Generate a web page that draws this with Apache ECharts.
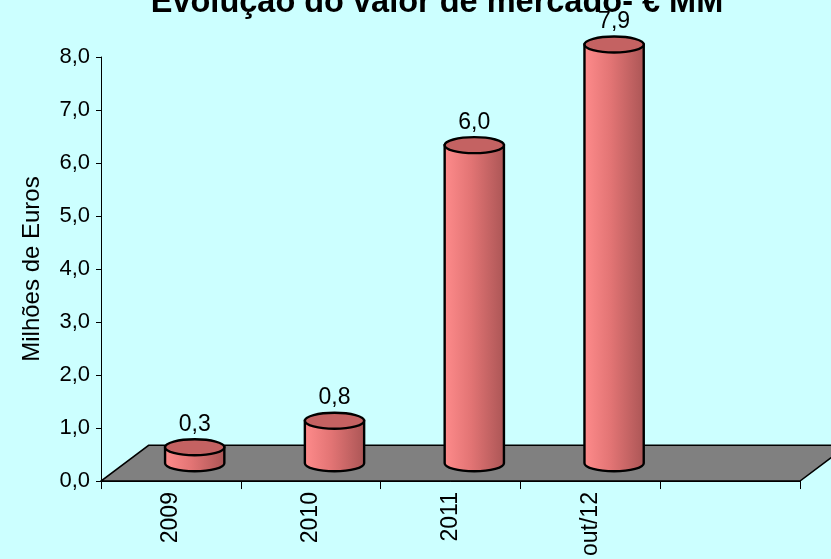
<!DOCTYPE html>
<html>
<head>
<meta charset="utf-8">
<script src="https://cdn.jsdelivr.net/npm/echarts@6/dist/echarts.min.js"></script>
<style>
html,body{margin:0;padding:0;background:#CCFFFF;}
#chart{width:831px;height:559px;}
</style>
</head>
<body>
<div id="chart"></div>
<script>
// ---- data ----
const titleText = 'Evolução do valor de mercado- € MM';
const yAxisTitle = 'Milhões de Euros';
const categories = ['2009', '2010', '2011', 'out/12', ''];
const values = [0.3, 0.8, 6.0, 7.9];
const yMin = 0;
const yMax = 8;
const yInterval = 1;

// ---- style constants ----
const FONT = 'Liberation Sans, Arial, sans-serif';
const DEPTH_X = 47.6;   // 3D floor depth offset
const DEPTH_Y = -35.7;
const RX_RATIO = 0.212; // cylinder radius relative to category width
const RY = 8;

function fmt(v) { return v.toFixed(1).replace('.', ','); }

const chart = echarts.init(document.getElementById('chart'));

function renderFloor(params, api) {
  const cs = params.coordSys;
  const y0 = api.coord([0, 0])[1];
  const x0 = cs.x, x1 = cs.x + cs.width;
  return {
    type: 'polygon',
    shape: { points: [[x0, y0], [x1, y0], [x1 + DEPTH_X, y0 + DEPTH_Y], [x0 + DEPTH_X, y0 + DEPTH_Y]] },
    style: { fill: '#808080', stroke: '#000', lineWidth: 1.5 }
  };
}

function renderCylinder(params, api) {
  const idx = api.value(0);
  const v = api.value(1);
  const base = api.coord([idx, 0]);
  const top = api.coord([idx, v]);
  const band = api.size([1, 0])[0];
  const rx = band * RX_RATIO;
  const cx = base[0] + DEPTH_X / 2;
  const yb = base[1] + DEPTH_Y / 2;
  const yt = top[1] + DEPTH_Y / 2;
  const path = 'M' + (cx - rx) + ',' + yt +
    ' L' + (cx - rx) + ',' + yb +
    ' A' + rx + ',' + RY + ' 0 0 0 ' + (cx + rx) + ',' + yb +
    ' L' + (cx + rx) + ',' + yt + ' Z';
  return {
    type: 'group',
    children: [
      {
        type: 'path',
        shape: { pathData: path },
        style: {
          fill: {
            type: 'linear', x: 0, y: 0, x2: 1, y2: 0,
            colorStops: [
              { offset: 0, color: '#FF8C8C' },
              { offset: 0.45, color: '#E27474' },
              { offset: 1, color: '#AA5555' }
            ]
          },
          stroke: '#000', lineWidth: 2.4
        }
      },
      {
        type: 'ellipse',
        shape: { cx: cx, cy: yt, rx: rx, ry: RY },
        style: { fill: '#C46262', stroke: '#000', lineWidth: 2.4 }
      },
      {
        type: 'text',
        style: {
          text: fmt(v), x: cx, y: yt - 23,
          textAlign: 'center', textVerticalAlign: 'middle',
          font: '23px ' + FONT, fill: '#000'
        }
      }
    ]
  };
}

chart.setOption({
  backgroundColor: '#CCFFFF',
  animation: false,
  title: {
    text: titleText,
    left: 432, top: -18,
    textAlign: 'center',
    textStyle: { fontSize: 32.5, fontWeight: 'bold', fontFamily: FONT, color: '#000' }
  },
  grid: { left: 101, right: 31, top: 57, bottom: 76 },
  xAxis: {
    type: 'category',
    data: categories,
    axisLine: { lineStyle: { color: '#000', width: 1 } },
    axisTick: { show: true, length: 8, alignWithLabel: false, lineStyle: { color: '#000' } },
    axisLabel: { rotate: 90, margin: 11, fontSize: 23, fontFamily: FONT, color: '#000', interval: 0 },
    splitLine: { show: false }
  },
  yAxis: {
    type: 'value',
    min: yMin, max: yMax, interval: yInterval,
    name: yAxisTitle,
    nameLocation: 'middle',
    nameRotate: 90,
    nameGap: 57,
    nameTextStyle: { fontSize: 24, fontFamily: FONT, color: '#000' },
    axisLine: { show: true, lineStyle: { color: '#000', width: 1 } },
    axisTick: { show: true, length: 5, lineStyle: { color: '#000' } },
    axisLabel: { formatter: fmt, fontSize: 22, fontFamily: FONT, color: '#000', margin: 11 },
    splitLine: { show: false }
  },
  series: [
    {
      type: 'custom',
      name: 'floor',
      z: 1,
      renderItem: renderFloor,
      data: [[0, 0]],
      encode: { x: 0, y: 1 },
      silent: true
    },
    {
      type: 'custom',
      name: 'valor',
      z: 3,
      renderItem: renderCylinder,
      data: values.map(function (v, i) { return [i, v]; }),
      encode: { x: 0, y: 1 }
    }
  ]
});
</script>
</body>
</html>
